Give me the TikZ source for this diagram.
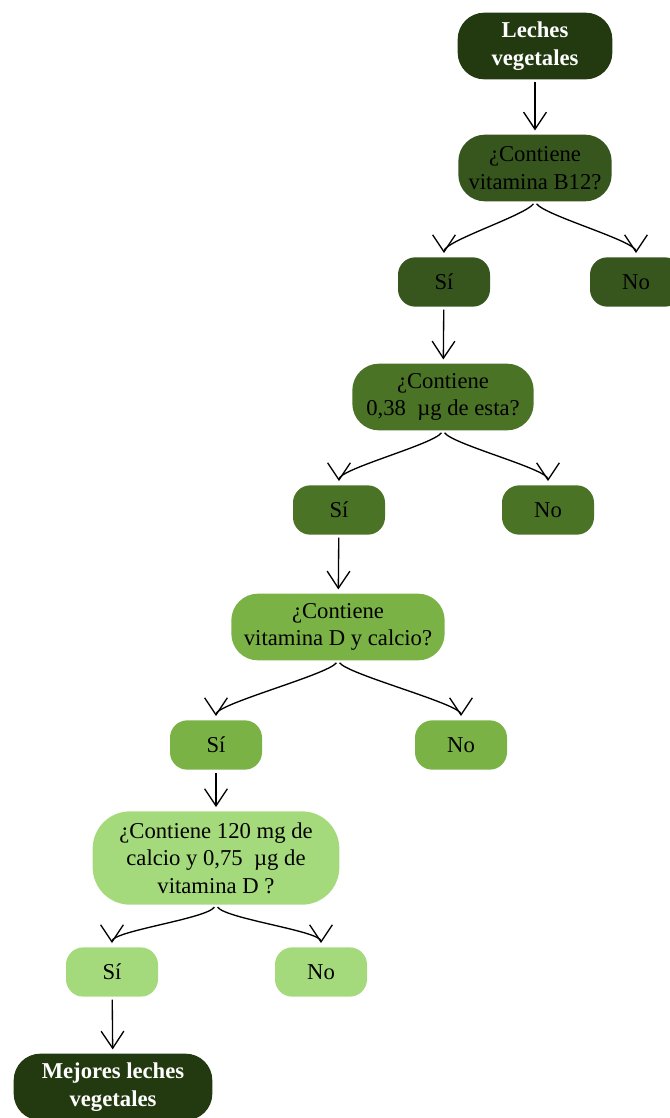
\documentclass[tikz,border=0pt]{standalone}
\usepackage{fontspec}
\setmainfont{Liberation Serif}
\usetikzlibrary{arrows.meta, positioning}
\definecolor{leafdark}{RGB}{35, 58, 17}
\definecolor{leafdeep}{RGB}{55, 86, 29}
\definecolor{leafmid}{RGB}{74, 115, 38}
\definecolor{leafbright}{RGB}{122, 178, 70}
\definecolor{leaflight}{RGB}{164, 218, 124}

\begin{document}
\begin{tikzpicture}[
    x=0.75pt, y=-0.75pt,
    question/.style={rectangle, rounded corners=20pt, minimum height=50pt, align=center, font=\fontsize{17}{20.5}\selectfont, text=black, inner sep=2pt},
    answer/.style={rectangle, rounded corners=13pt, minimum width=69pt, minimum height=37pt, align=center, font=\fontsize{17}{20.5}\selectfont, text=black},
    endpoint/.style={question, font=\fontsize{17}{20.5}\selectfont\bfseries, text=white, fill=leafdark},
    arrow/.style={-{Straight Barb[length=4.5mm, width=6mm]}, line width=1pt, black, shorten <=2pt, shorten >=3pt},
    branchleft/.style={arrow, to path={.. controls +(-10,14) and +(0,-16) .. (\tikztotarget)}},
    branchright/.style={arrow, to path={.. controls +(10,14) and +(0,-16) .. (\tikztotarget)}},
]
\useasboundingbox (0,0) rectangle (670,1118);

% Start
\node[endpoint, minimum width=116pt] (leches) at (535, 46) {Leches\\vegetales};

% Level 1
\node[question, fill=leafdeep, minimum width=115pt] (qbtwelve) at (535, 168) {¿Contiene\\vitamina B12?};
\node[answer, fill=leafdeep] (sione) at (444, 282) {Sí};
\node[answer, fill=leafdeep] (noone) at (636, 282) {No};

\draw[arrow] (leches) -- (qbtwelve);
\draw[branchleft] (qbtwelve.south) to (sione.north);
\draw[branchright] (qbtwelve.south) to (noone.north);

% Level 2
\node[question, fill=leafmid, minimum width=136pt] (qdosis) at (443, 397) {¿Contiene\\0,38\ \ µg de esta?};
\node[answer, fill=leafmid] (sitwo) at (339, 510) {Sí};
\node[answer, fill=leafmid] (notwo) at (548, 510) {No};

\draw[arrow] (sione) -- (qdosis);
\draw[branchleft] (qdosis.south) to (sitwo.north);
\draw[branchright] (qdosis.south) to (notwo.north);

% Level 3
\node[question, fill=leafbright, minimum width=160pt] (qvitd) at (338, 627) {¿Contiene\\vitamina D y calcio?};
\node[answer, fill=leafbright] (sithree) at (216, 745) {Sí};
\node[answer, fill=leafbright] (nothree) at (461, 745) {No};

\draw[arrow] (sitwo) -- (qvitd);
\draw[branchleft] (qvitd.south) to (sithree.north);
\draw[branchright] (qvitd.south) to (nothree.north);

% Level 4
\node[question, fill=leaflight, minimum width=185pt, minimum height=70pt, rounded corners=28pt] (qcalcio) at (216, 858) {¿Contiene 120 mg de\\calcio y 0,75\ \ µg de\\vitamina D ?};
\node[answer, fill=leaflight] (sifour) at (112, 972) {Sí};
\node[answer, fill=leaflight] (nofour) at (321, 972) {No};

\draw[arrow] (sithree) -- (qcalcio);
\draw[branchleft] (qcalcio.south) to (sifour.north);
\draw[branchright] (qcalcio.south) to (nofour.north);

% Result
\node[endpoint, minimum width=149pt] (mejores) at (113, 1087) {Mejores leches\\vegetales};
\draw[arrow] (sifour) -- (mejores);

\end{tikzpicture}
\end{document}
